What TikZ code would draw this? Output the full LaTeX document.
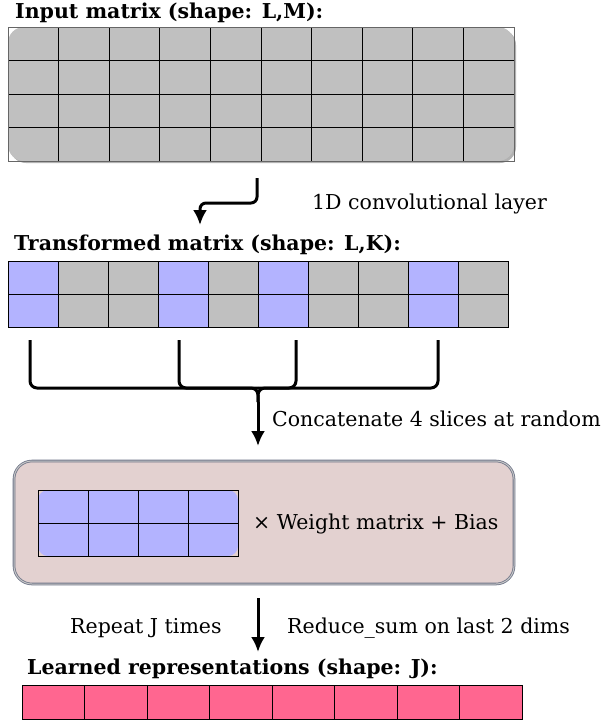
\documentclass[tikz,border=0pt]{standalone}
\usepackage{fontspec}
\setmainfont{DejaVu Serif}
\usetikzlibrary{positioning,arrows.meta}
\definecolor{cellgrey}{HTML}{C0C0C0}
\definecolor{cellblue}{HTML}{B3B3FF}
\definecolor{cellpink}{HTML}{FF6690}
\definecolor{boxrose}{HTML}{E3D1D0}
\definecolor{boxedge}{HTML}{6F7589}
\tikzstyle{cell} = [rectangle, draw=black, line width=0.7pt, minimum height=33.5pt,
    inner sep=0pt, outer sep=0pt, anchor=north west]
\tikzstyle{title} = [font=\bfseries\fontsize{20.5}{24}\selectfont, anchor=west, inner sep=0pt]
\tikzstyle{note} = [font=\fontsize{20.5}{24}\selectfont, anchor=west, inner sep=0pt]
\tikzstyle{arrow} = [-{Latex[length=15pt,width=14pt]}, line width=3pt, rounded corners=6pt]
\tikzstyle{brace} = [line width=3pt, rounded corners=7pt]
\tikzstyle{frame} = [draw=black!60, line width=0.6pt]

\begin{document}
\begin{tikzpicture}[x=1pt,y=-1pt]
\useasboundingbox (0,0) rectangle (605,724);

% input matrix
\node[title] (t-in) at (15,13) {Input matrix (shape: L,M):};
\fill[black!30,rounded corners=16pt] (10,29) rectangle (516,163);
\fill[cellgrey,rounded corners=16pt] (8,27) rectangle (514,161);
\foreach \r in {0,...,3}
  \foreach \c in {0,...,9}
    \node[cell,minimum width=50.6pt] (in-\r-\c) at (8+50.6*\c,27+33.5*\r) {};
\draw[frame] (in-0-0.north west) rectangle (in-3-9.south east);

% conv arrow
\coordinate (conv-s) at (257,178);
\coordinate (conv-e) at (200,225);
\draw[arrow] (conv-s) -- (257,203) -- (200,203) -- (conv-e);
\node[note] (conv) at (312,204) {1D convolutional layer};

% transformed matrix
\node[title] (t-tr) at (14,245) {Transformed matrix (shape: L,K):};
\foreach \r in {0,1}
  \foreach \c/\col in {0/cellblue,1/cellgrey,2/cellgrey,3/cellblue,4/cellgrey,
                        5/cellblue,6/cellgrey,7/cellgrey,8/cellblue,9/cellgrey}
    \node[cell,minimum width=50pt,fill=\col] (tr-\r-\c) at (8+50*\c,261+33*\r) {};

% slices
\coordinate (s1) at (30,340);
\coordinate (s2) at (179,340);
\coordinate (s3) at (296,340);
\coordinate (s4) at (438,340);
\coordinate (join) at (258,388);
\coordinate (tip) at (258,402);
\draw[brace] (s1) |- (join) -- (tip);
\draw[brace] (s4) |- (join) -- (tip);
\draw[brace] (s2) |- (join);
\draw[brace] (s3) |- (join);
\draw[arrow] (tip) -- (258,446);
\node[note] (concat) at (272,419) {Concatenate 4 slices at random};

% dense layer
\node[rectangle,rounded corners=18pt,fill=boxrose,draw=boxedge,line width=0.8pt,
      double=gray!45,double distance=1pt,
      minimum width=500pt,minimum height=123pt] (mix) at (264,522.5) {};
\fill[cellblue,rounded corners=10pt] (38,490) rectangle (238,556);
\foreach \r in {0,1}
  \foreach \c in {0,...,3}
    \node[cell,minimum width=50pt,minimum height=33pt] (sl-\r-\c) at (38+50*\c,490+33*\r) {};
\node[note] (wb) at (253,524) {× Weight matrix + Bias};

% output
\coordinate (rs) at (258,598);
\draw[arrow] (rs) -- (258,652);
\node[note] (rep) at (70,628) {Repeat J times};
\node[note] (red) at (287,628) {Reduce\_sum on last 2 dims};
\node[title] (t-out) at (27,669) {Learned representations (shape: J):};
\foreach \c in {0,...,7}
  \node[cell,minimum width=62.5pt,minimum height=34pt,fill=cellpink] (out-\c) at (22+62.5*\c,685) {};

\end{tikzpicture}
\end{document}
